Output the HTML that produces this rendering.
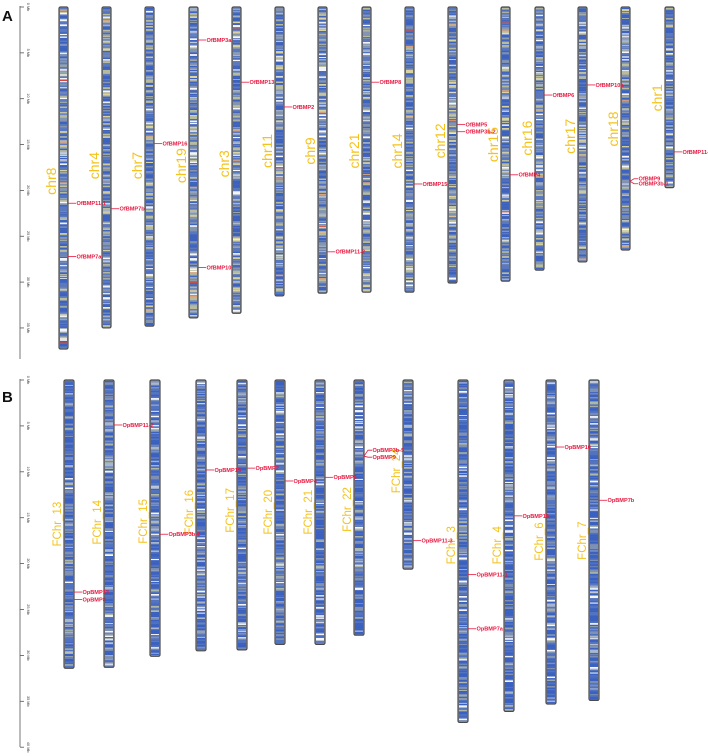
<!DOCTYPE html>
<html><head><meta charset="utf-8">
<style>
html,body{margin:0;padding:0;background:#fff;}
svg{display:block;}
text{font-family:"Liberation Sans",sans-serif;}
</style></head>
<body>
<svg id="fig" width="708" height="756" viewBox="0 0 708 756" xmlns="http://www.w3.org/2000/svg">
<text x="2" y="21" font-size="15" font-weight="bold" fill="#111">A</text>
<text x="2" y="402" font-size="15" font-weight="bold" fill="#111">B</text>
</svg>
<script>
// ---- Panel A data ----
const chrNamesA = ["chr8","chr4","chr7","chr19","chr3","chr11","chr9","chr21","chr14","chr12","chr15","chr16","chr17","chr18","chr1"];
const chrLenA   = [37.3,35.0,34.8,33.9,33.4,31.5,31.2,31.1,31.1,30.1,29.9,28.7,27.8,26.5,19.7];
const chrXA     = [59,102,145,189,232,275,318,362,405,448,501,535,578,621,665];
const chrLabelMbA = [19.0,17.3,17.3,17.3,17.1,15.7,15.7,15.7,15.7,14.6,15.0,14.3,14.1,13.3,9.9];
const geneNamesA = ["OfBMP11-1","OfBMP7a","OfBMP7b","OfBMP16","OfBMP3a","OfBMP10","OfBMP13","OfBMP2","OfBMP11-2","OfBMP8","OfBMP15","OfBMP5","OfBMP3b-2","OfBMP4","OfBMP6","OfBMP10a","OfBMP9","OfBMP3b-1","OfBMP11-3"];
const geneChrA   = [0,0,1,2,3,3,4,5,6,7,8,9,9,10,11,12,13,13,14];
const genePosA   = [21.4,27.2,22.0,14.9,3.6,28.4,8.2,10.9,26.7,8.2,19.3,12.8,13.6,18.3,9.6,8.5,19.0,19.0,15.8];
const geneDyA    = [0,0,0,0,0,0,0,0,0,0,0,0,0,0,0,0,-2.5,2.5,0];
const tickMbA = [0,5,10,15,20,25,30,35];
const tickLabA = ["0 Mb","5 Mb","10 Mb","15 Mb","20 Mb","25 Mb","30 Mb","35 Mb"];

// ---- Panel B data ----
const chrNamesB = ["FChr_13","FChr_14","FChr_15","FChr_16","FChr_17","FChr_20","FChr_21","FChr_22","FChr_24","FChr_3","FChr_4","FChr_6","FChr_7"];
const chrLenB   = [31.4,31.3,30.1,29.5,29.4,28.8,28.8,27.8,20.6,37.3,36.1,35.3,34.9];
const chrXB     = [64,104,150,196,237,275,315,354,403,458,504,546,589];
const chrLabelMbB = [15.7,15.5,15.4,14.4,14.2,14.4,14.4,14.1,9.9,18.0,18.0,17.6,17.5];
const geneNamesB = ["OpBMP13","OpBMP8","OpBMP11-2","OpBMP3b-2","OpBMP15","OpBMP2","OpBMP4","OpBMP6","OpBMP3b-5","OpBMP9","OpBMP11-3","OpBMP11-1","OpBMP7a","OpBMP16","OpBMP10","OpBMP7b"];
const geneChrB   = [0,0,1,2,3,4,5,6,7,7,8,9,9,10,11,12];
const genePosB   = [23.1,23.9,4.9,16.8,9.8,9.6,11.0,10.6,8.3,8.3,17.5,21.2,27.1,14.8,7.3,13.1];
const geneDyB    = [0,0,0,0,0,0,0,0,-6,1,0,0,0,0,0,0];
const tickMbB = [0,5,10,15,20,25,30,35,40];
const tickLabB = ["0 Mb","5 Mb","10 Mb","15 Mb","20 Mb","25 Mb","30 Mb","35 Mb","40 Mb"];

const NS = "http://www.w3.org/2000/svg";
const svg = document.getElementById("fig");
const yA = mb => 7 + mb * 9.17;
const yB = mb => 380 + mb * 9.18;

function mk(tag, attrs, parent){
  const e = document.createElementNS(NS, tag);
  for (const k in attrs) e.setAttribute(k, attrs[k]);
  (parent||svg).appendChild(e);
  return e;
}
// deterministic texture generator for band pattern
let seed = 12345;
function rnd(){ seed = (seed * 1103515245 + 12345) & 0x7fffffff; return seed / 0x7fffffff; }
function pick(pal){
  let r = rnd(), acc = 0;
  for (const p of pal){ acc += p[1]; if (r < acc) return p[0]; }
  return pal[0][0];
}
const palA = [["#3d62bd",0.30],["#5a78be",0.22],["#8595b0",0.18],["#b9bc9c",0.12],["#f4f6fb",0.06],["#d9d39f",0.06],["#9fb0c8",0.045],["#d9a27c",0.012],["#d04a3c",0.003]];
const palB = [["#3a60c0",0.40],["#5273c0",0.24],["#7f90b3",0.18],["#aeb8a8",0.06],["#f4f6fb",0.06],["#a8b6cf",0.06]];

function axis(yf, ticks, labs, y0, y1, name){
  const g = mk("g", {});
  
  
  mk("line", {x1:20,y1:y0,x2:20,y2:y1,stroke:"#555","stroke-width":0.8}, g);
  ticks.forEach((t,i)=>{
    const y = yf(t);
    mk("line",{x1:20,y1:y,x2:24,y2:y,stroke:"#555","stroke-width":0.8},g);
    const tx = mk("text",{x:0,y:0,"font-size":3.8,fill:"#333",transform:`translate(27,${y}) rotate(90)`,"text-anchor":"middle"},g);
    tx.textContent = labs[i];
  });
}
axis(yA, tickMbA, tickLabA, 6, 359, "panel-a-y-axis");
axis(yB, tickMbB, tickLabB, 379, 747, "panel-b-y-axis");

function chromosomes(names, lens, xs, labMb, yf, pal, w, lblSize){
  names.forEach((n,i)=>{
    const g = mk("g",{});
    
    
    const x = xs[i], top = yf(0), bot = yf(lens[i]);
    mk("rect",{x:x,y:top,width:w,height:bot-top,fill:"#8a96b0"},g);
    let y = top + 1;
    while (y < bot - 1){
      const h = 0.6 + rnd()*1.2;
      const hh = Math.min(h, bot-1-y);
      mk("rect",{x:x+1,y:y,width:w-2,height:hh+0.15,fill:pick(pal)},g);
      y += h;
    }
    mk("rect",{x:x,y:top,width:w,height:bot-top,rx:1.5,fill:"none",stroke:"#4a4a4a","stroke-width":1.2},g);
    const ly = yf(labMb[i]);
    const t = mk("text",{x:0,y:0,"font-size":lblSize,fill:"#f5c21b",transform:`translate(${x-3},${ly}) rotate(-90)`,"text-anchor":"middle"},g);
    
    
    t.textContent = n;
  });
}
chromosomes(chrNamesA, chrLenA, chrXA, chrLabelMbA, yA, palA, 9, 14);
chromosomes(chrNamesB, chrLenB, chrXB, chrLabelMbB, yB, palB, 10, 11.5);

function genes(names, chrs, pos, dys, xs, w, yf){
  names.forEach((n,i)=>{
    const g = mk("g",{});
    
    
    const x = xs[chrs[i]] + w, y = yf(pos[i]), ly = y + dys[i];
    mk("path",{d:`M${x} ${y} L${x+4} ${ly} L${x+8} ${ly}`,fill:"none",stroke:"#e8173f","stroke-width":0.8},g);
    const t = mk("text",{x:x+8.5,y:ly+1.9,"font-size":5.6,"font-weight":"bold",fill:"#e8173f"},g);
    t.textContent = n;
  });
}
genes(geneNamesA, geneChrA, genePosA, geneDyA, chrXA, 9, yA);
genes(geneNamesB, geneChrB, genePosB, geneDyB, chrXB, 10, yB);
</script>
</body></html>
